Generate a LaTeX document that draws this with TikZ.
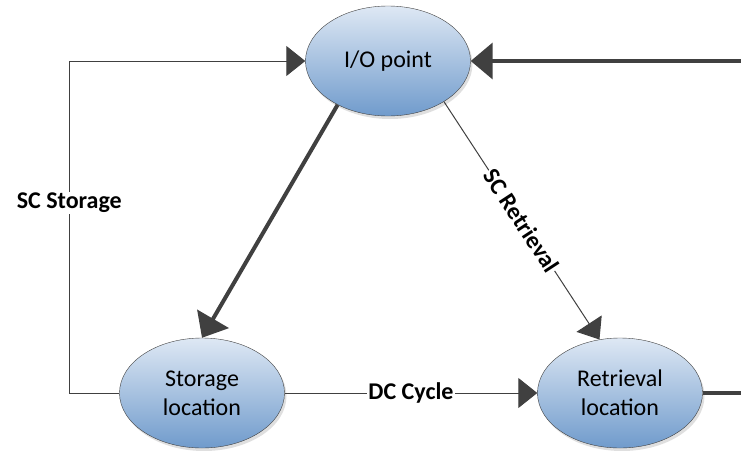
\documentclass[tikz,border=0pt]{standalone}
\usepackage{fontspec}
\setmainfont{Carlito}
\usepackage{xcolor}
\usepackage{tikz}
\usetikzlibrary{
    arrows.meta,
    positioning,
    shadows,
    shapes.geometric
}
\definecolor{edge}{RGB}{64,64,64}
\definecolor{topblue}{RGB}{222,232,244}
\definecolor{botblue}{RGB}{112,155,204}
\tikzset{%
   loc/.style={
      ellipse,
      draw=edge,
      thin,
      inner sep=0pt,
      minimum width=165pt,
      minimum height=110pt,
      top color=topblue,
      bottom color=botblue,
      drop shadow={shadow xshift=2pt, shadow yshift=-3pt, fill=black!25},
      align=center,
      font=\fontsize{24}{29}\selectfont
   },
   ln/.style={
      draw=edge,
      line width=1pt,
      -{Triangle[length=19pt,width=30pt]}
   },
   lnh/.style={
      draw=edge,
      line width=4pt
   },
   lnha/.style={
      lnh,
      -{Triangle[length=22pt,width=36pt]}
   },
   lbl/.style={
      fill=white,
      inner sep=1pt,
      font=\fontsize{24}{29}\selectfont\bfseries
   },
}

\begin{document}
\begin{tikzpicture}[x=1pt, y=-1pt]
   \useasboundingbox (0,0) rectangle (741,450);
   % the three places
   \node[loc] (io) at (388,61) {I/O point};
   \node[loc] (store) at (202,393) {Storage\\location};
   \node[loc] (retr) at (620,393) {Retrieval\\location};
   % loose ends of the outer loop
   \coordinate (outR) at (741,393);
   \coordinate (outT) at (741,61);
   % cycles
   \draw[ln] (store.west) -- ++(-50,0) |- node[pos=.286, lbl] {SC Storage} (io.west);
   \draw[lnha] (io.221) -- (store.north);
   \draw[ln] (io.-36) -- node[pos=.5, lbl, sloped] {SC Retrieval} (retr.111);
   \draw[ln] (store.east) -- node[lbl] {DC Cycle} (retr.west);
   \draw[lnh] (retr.east) -- (outR);
   \draw[lnha] (outT) -- (io.east);
\end{tikzpicture}
\end{document}
